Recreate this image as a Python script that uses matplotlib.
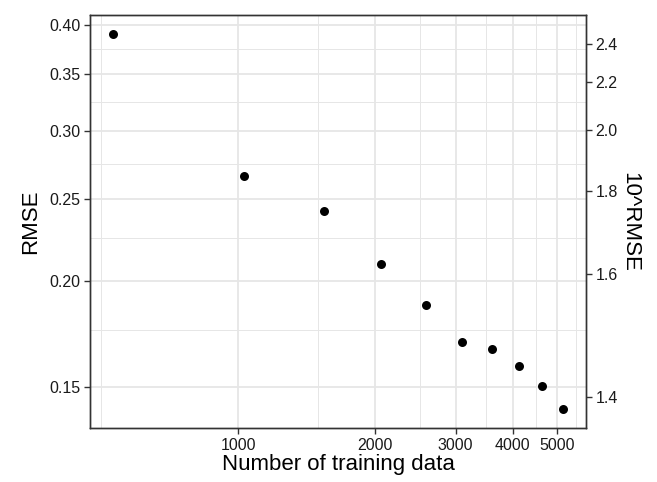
import matplotlib
matplotlib.use("Agg")
import matplotlib.pyplot as plt
import numpy as np

# Data
n_train = [530, 1029, 1546, 2061, 2586, 3096, 3600, 4135, 4651, 5171]
rmse = [0.3907, 0.2656, 0.2421, 0.2094, 0.1877, 0.1697, 0.1665, 0.1590, 0.1504, 0.1414]

x_major = [1000, 2000, 3000, 4000, 5000]
x_minor = [500, 1500, 2500, 3500, 4500, 5500]
y_major = [0.15, 0.20, 0.25, 0.30, 0.35, 0.40]
y_minor = [0.175, 0.225, 0.275, 0.325, 0.375]
y_major_labels = ["0.15", "0.20", "0.25", "0.30", "0.35", "0.40"]
y2_vals = [1.4, 1.6, 1.8, 2.0, 2.2, 2.4]
y2_labels = ["1.4", "1.6", "1.8", "2.0", "2.2", "2.4"]

plt.rcParams['font.family'] = ['Liberation Sans', 'DejaVu Sans']

fig = plt.figure(figsize=(6.57, 4.82), dpi=100)
ax = fig.add_axes([90/657, 1-428/482, (586-90)/657, (428-15)/482])

ax.set_xscale('log')
ax.set_yscale('log')

# limits with 5% expansion in log space
lx = np.log10(n_train); ly = np.log10(rmse)
ex = 0.05*(lx.max()-lx.min()); ey = 0.05*(ly.max()-ly.min())
ax.set_xlim(10**(lx.min()-ex), 10**(lx.max()+ex))
ax.set_ylim(10**(ly.min()-ey), 10**(ly.max()+ey))

gridc = '#E6E6E6'
for v in x_minor:
    ax.axvline(v, color=gridc, lw=0.7, zorder=0)
for v in y_minor:
    ax.axhline(v, color=gridc, lw=0.7, zorder=0)
for v in x_major:
    ax.axvline(v, color=gridc, lw=1.3, zorder=0)
for v in y_major:
    ax.axhline(v, color=gridc, lw=1.3, zorder=0)

ax.scatter(n_train, rmse, s=42, color='black', zorder=3, linewidths=0)

ax.set_xticks(x_major)
ax.set_xticklabels([str(v) for v in x_major])
ax.set_xticks([], minor=True)
ax.set_yticks(y_major)
ax.set_yticklabels(y_major_labels)
ax.set_yticks([], minor=True)

textc = '#1a1a1a'
tickc = '#333333'
ax.tick_params(axis='both', which='major', length=4, width=1, color=tickc,
               labelsize=11.5, labelcolor=textc, pad=3)
for s in ax.spines.values():
    s.set_color(tickc)
    s.set_linewidth(1.0)

ax.set_xlabel("Number of training data", fontsize=16, color='black', labelpad=1)
ax.set_ylabel("RMSE", fontsize=16, color='black', labelpad=6)

ax2 = ax.twinx()
ax2.set_yscale('log')
ax2.set_ylim(ax.get_ylim())
ax2.set_yticks(np.log10(y2_vals))
ax2.set_yticklabels(y2_labels)
ax2.set_yticks([], minor=True)
ax2.tick_params(axis='y', which='major', length=4, width=1, color=tickc,
                labelsize=11.5, labelcolor=textc, pad=3)
for s in ax2.spines.values():
    s.set_color(tickc)
    s.set_linewidth(1.0)
ax2.set_ylabel("10^RMSE", fontsize=16, color='black', rotation=-90, labelpad=16)

fig.savefig("out.png", dpi=100)
